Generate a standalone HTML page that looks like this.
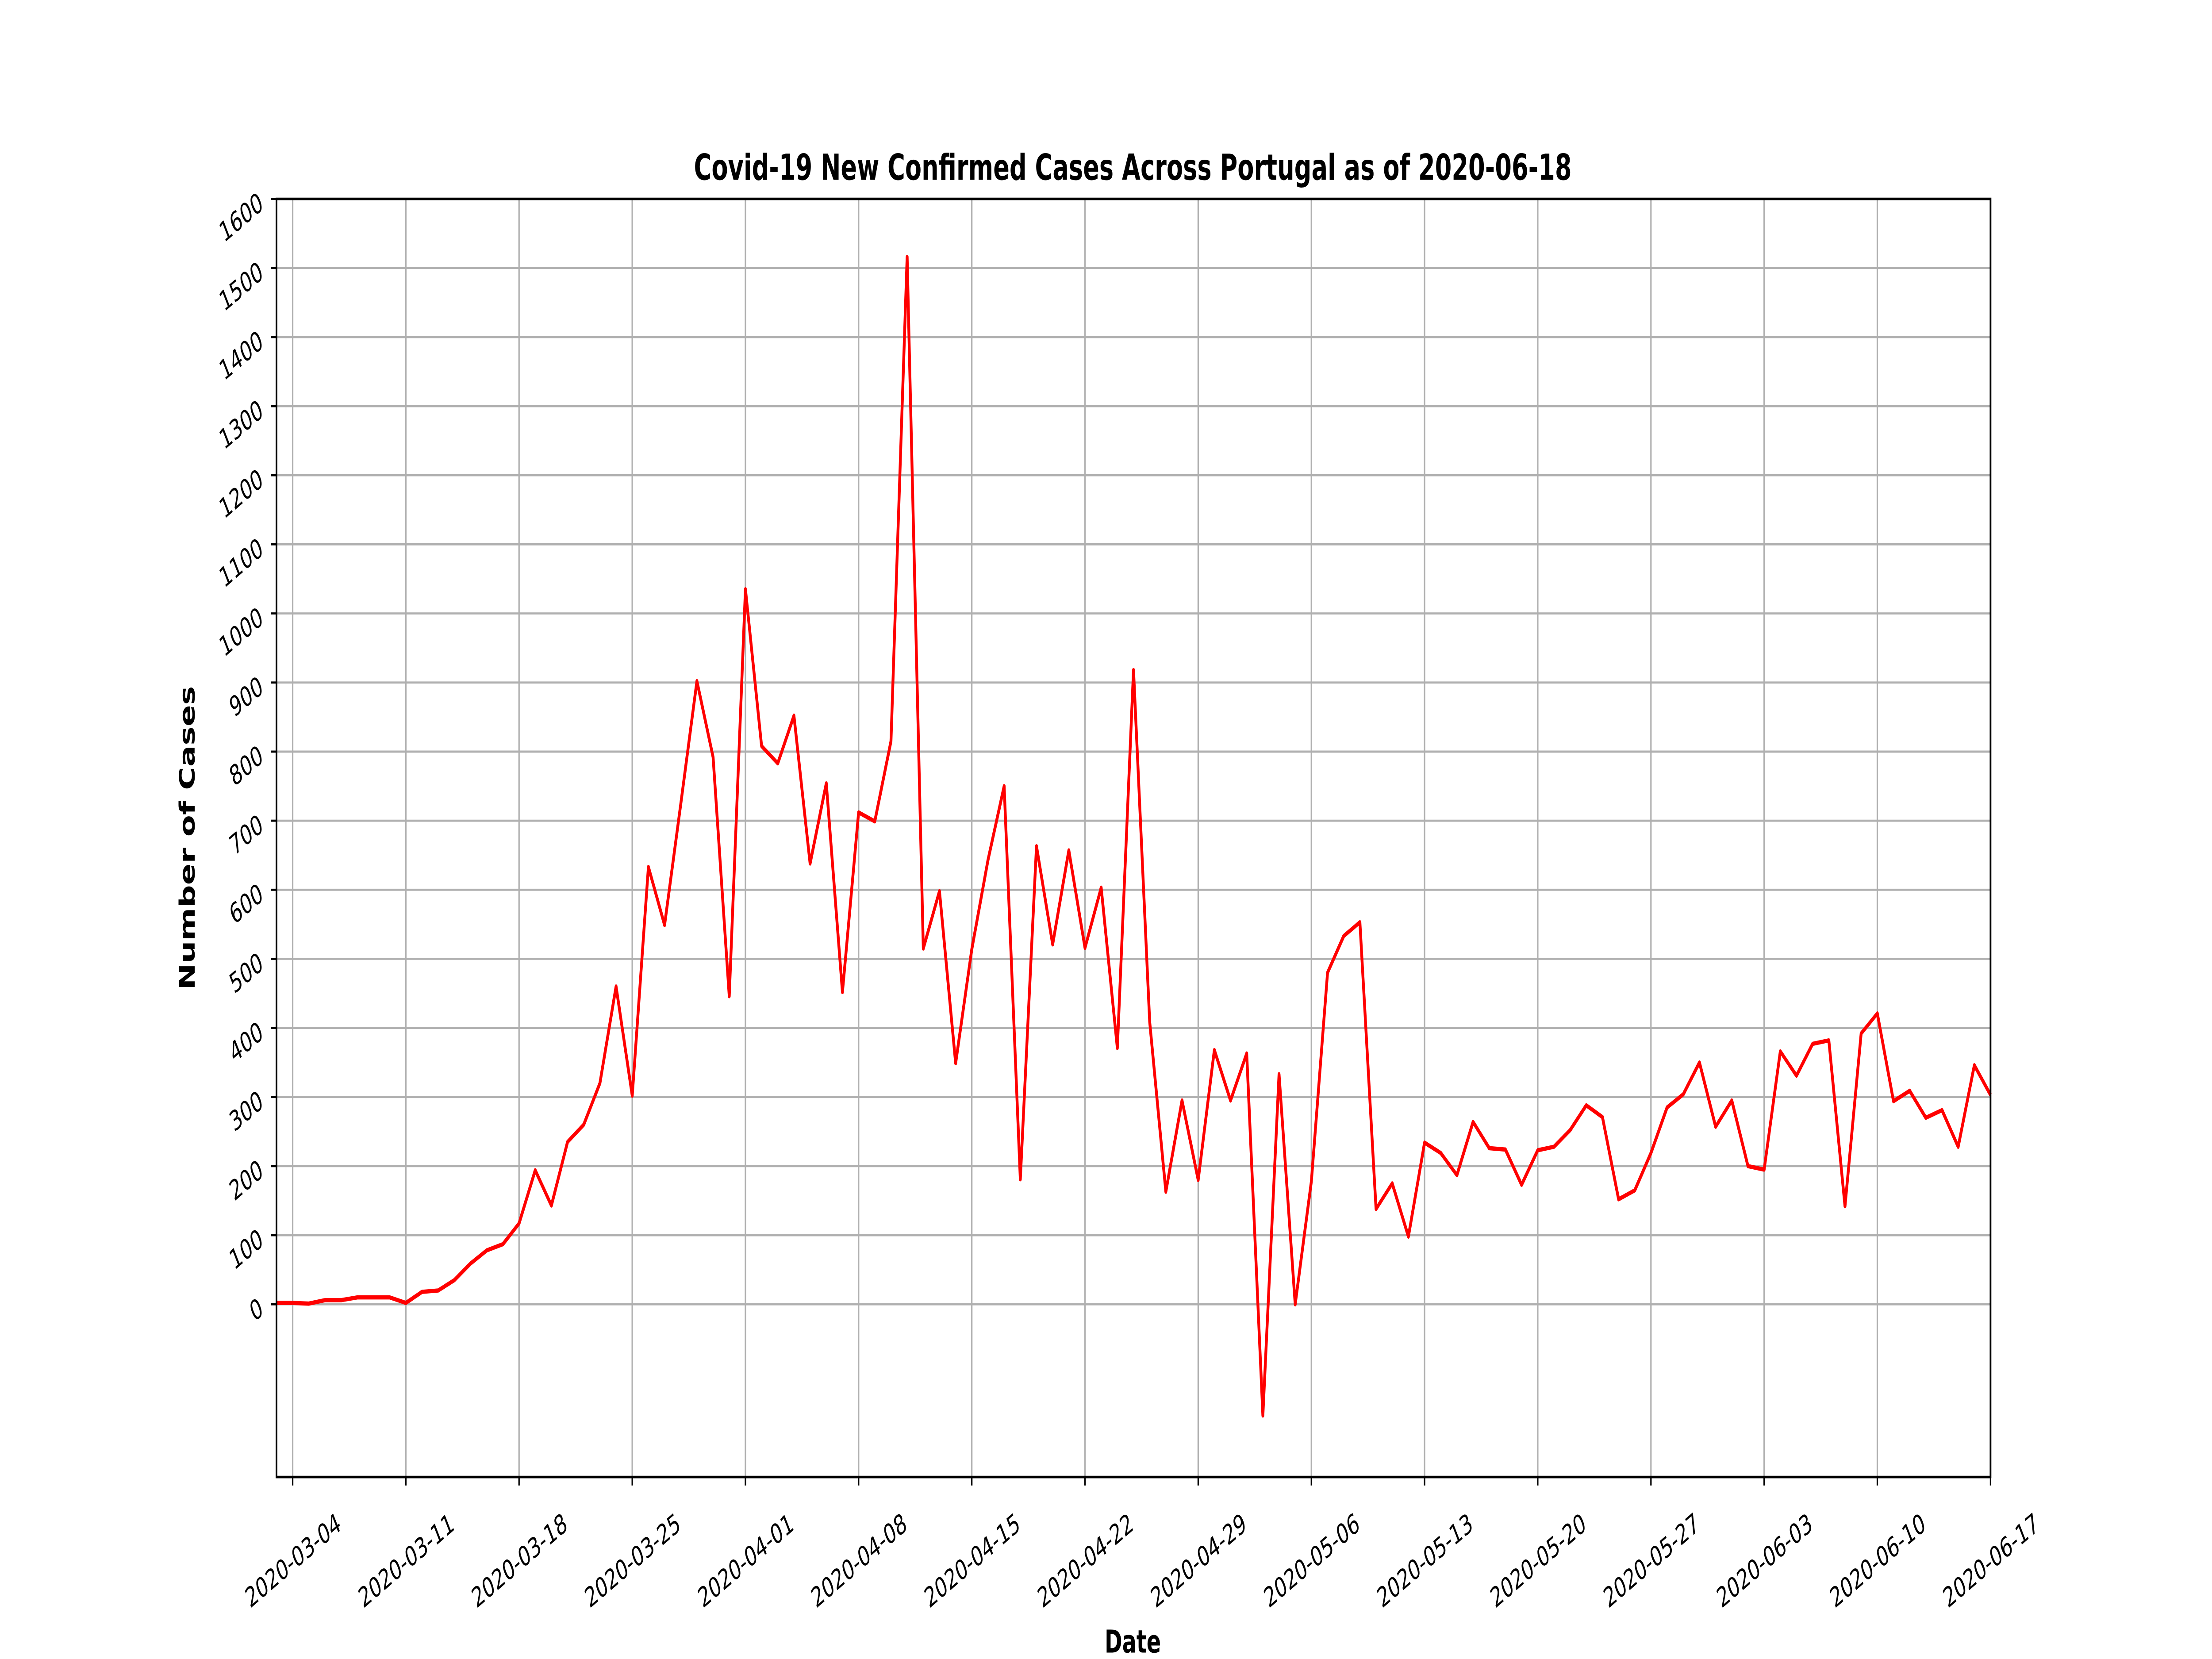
<!DOCTYPE html>
<html><head><meta charset="utf-8"><style>
html,body{margin:0;padding:0;background:#fff;overflow:hidden;width:100vw;height:100vh;}
svg{display:block;width:100vw;height:100vh;}
text{font-family:"DejaVu Sans","Liberation Sans",sans-serif;}
</style></head><body>
<svg id="chart" viewBox="0 0 1568 784" preserveAspectRatio="none" xmlns="http://www.w3.org/2000/svg">
<rect width="1568" height="784" fill="#fff"/>
<g id="grid"></g>
<g id="series"></g>
<g id="axes"></g>
<text x="803" y="85" text-anchor="middle" font-size="17" font-weight="bold">Covid-19 New Confirmed Cases Across Portugal as of 2020-06-18</text>
<text x="803" y="781" text-anchor="middle" font-size="15" font-weight="bold">Date</text>
<text x="138" y="396" text-anchor="middle" font-size="15" font-weight="bold" transform="rotate(-90 138 396)">Number of Cases</text>
</svg>
<script>
const startDate = "2020-03-03";
const newCases = [2,2,1,6,6,10,10,10,2,18,20,35,59,78,87,
117,194,143,235,260,320,460,302,633,549,724,902,792,446,
1035,808,783,852,638,754,452,712,699,815,1516,515,598,349,514,643,750,181,663,521,657,516,603,371,918,409,163,295,180,368,
295,363,-161,333,0,178,480,533,553,138,175,98,234,219,187,264,226,224,173,223,228,252,288,271,152,165,219,285,304,350,257,
295,200,195,366,331,377,382,142,392,421,294,309,270,281,228,346,303];
const yTicks = [0,100,200,300,400,500,600,700,800,900,1000,1100,1200,1300,1400,1500,1600];
const xTickLabels = ["2020-03-04","2020-03-11","2020-03-18","2020-03-25","2020-04-01","2020-04-08","2020-04-15","2020-04-22","2020-04-29","2020-05-06","2020-05-13","2020-05-20","2020-05-27","2020-06-03","2020-06-10","2020-06-17"];
const yMin = -250, yMax = 1600;

const L=196, R=1411, T=94, B=698;
const ns="http://www.w3.org/2000/svg";
const t0 = Date.parse(startDate);
const totalDays = (Date.parse("2020-06-17")-t0)/86400000;
function dayIdx(s){return (Date.parse(s)-t0)/86400000;}
function xs(d){return L+(R-L)*d/totalDays;}
function ys(v){return B-(B-T)*(v-yMin)/(yMax-yMin);}
function mk(tag,attrs,parent){const e=document.createElementNS(ns,tag);for(const k in attrs)e.setAttribute(k,attrs[k]);parent.appendChild(e);return e;}
const grid=document.getElementById('grid'), axes=document.getElementById('axes'), series=document.getElementById('series');

yTicks.forEach(v=>{
  const y=ys(v);
  const g=mk('line',{x1:L,x2:R,y1:y,y2:y,stroke:'#b0b0b0','stroke-width':1},grid);
  
  
  const tk=mk('line',{x1:L-4,x2:L,y1:y,y2:y,stroke:'#000','stroke-width':1},axes);
  
  
  const tx=mk('text',{x:185,y:y+5,'text-anchor':'end','font-size':13,transform:`rotate(-30 185 ${y})`},axes);
  tx.textContent=v;
  
  
});
xTickLabels.forEach(s=>{
  const x=xs(dayIdx(s));
  const g=mk('line',{x1:x,x2:x,y1:T,y2:B,stroke:'#b0b0b0','stroke-width':1},grid);
  
  
  const tk=mk('line',{x1:x,x2:x,y1:B,y2:B+4,stroke:'#000','stroke-width':1},axes);
  
  
  const tx=mk('text',{x:x,y:742,'text-anchor':'middle','font-size':13,transform:`rotate(-30 ${x} 737)`},axes);
  tx.textContent=s;
  
  
});
const frame=mk('rect',{x:L,y:T,width:R-L,height:B-T,fill:'none',stroke:'#000','stroke-width':1.2},axes);



const pts=newCases.map((v,i)=>xs(i).toFixed(2)+','+ys(v).toFixed(2)).join(' ');
const line=mk('polyline',{points:pts,fill:'none',stroke:'#ff0000','stroke-width':2,'stroke-linejoin':'round'},series);


</script>
</body></html>
